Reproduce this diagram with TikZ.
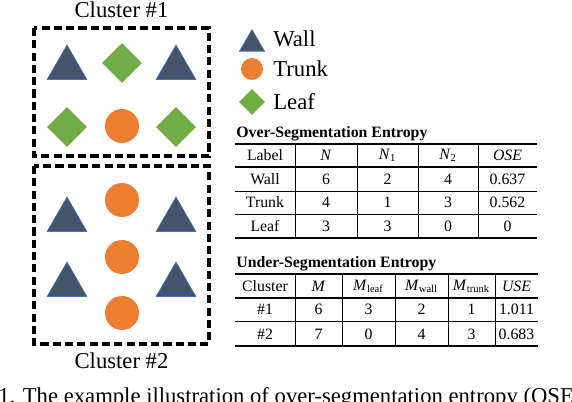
\documentclass[tikz,border=0pt]{standalone}
\usepackage{fontspec}
\setmainfont{Liberation Serif}
\usepackage{xcolor}
\usepackage{tikz}
\usetikzlibrary{shapes.geometric}
\definecolor{wallc}{HTML}{44546A}
\definecolor{walle}{HTML}{4472C4}
\definecolor{trunkc}{HTML}{ED7D31}
\definecolor{leafc}{HTML}{70AD47}

\begin{document}
\begin{tikzpicture}[x=0.02cm, y=-0.02cm,
    wall/.style={regular polygon, regular polygon sides=3, fill=wallc,
      draw=walle, line width=0.3pt, inner sep=0pt, minimum size=0.92cm},
    trunk/.style={circle, fill=trunkc, inner sep=0pt, minimum size=0.68cm},
    leaf/.style={diamond, fill=leafc, inner sep=0pt, minimum width=0.8cm,
      minimum height=0.8cm},
    cluster/.style={draw, line width=1.9pt, dash pattern=on 4.6pt off 2.4pt},
    lbl/.style={font=\fontsize{12.9}{15}\selectfont, inner sep=0pt},
    ttl/.style={font=\fontsize{9}{11}\selectfont\bfseries, inner sep=0pt,
      anchor=base west},
    cell/.style={font=\fontsize{9}{11}\selectfont, inner sep=0pt},
    thickrule/.style={line width=1.1pt},
    midrule/.style={line width=0.8pt},
    thinrule/.style={line width=0.45pt}]
  \useasboundingbox (0,0) rectangle (572,402);
  % clusters
  \draw[cluster] (34,28) rectangle (209,156);
  \draw[cluster] (34,166) rectangle (209,344);
  \node[lbl, anchor=base] (c1) at (121.5,18) {Cluster \#1};
  \node[lbl, anchor=base] (c2) at (121.5,368) {Cluster \#2};
  \node[wall] (w1) at (67,68) {};
  \node[leaf] (l1) at (122,63) {};
  \node[wall] (w2) at (176,68) {};
  \node[leaf] (l2) at (67,127) {};
  \node[trunk] (t1) at (122,126) {};
  \node[leaf] (l3) at (176,127) {};
  \node[trunk] (t2) at (122,200) {};
  \node[wall] (w3) at (67,220) {};
  \node[wall] (w4) at (176,220) {};
  \node[trunk] (t3) at (122,257) {};
  \node[wall] (w5) at (67,285) {};
  \node[wall] (w6) at (176,285) {};
  \node[trunk] (t4) at (122,313) {};
  % legend
  \node[wall, minimum size=0.58cm] (kw) at (252,44) {};
  \node[trunk, minimum size=0.44cm] (kt) at (252,69) {};
  \node[leaf, minimum width=0.52cm, minimum height=0.52cm] (kl) at (252,102) {};
  \node[lbl, anchor=base west] (kwt) at (273,47) {Wall};
  \node[lbl, anchor=base west] (ktt) at (273,77) {Trunk};
  \node[lbl, anchor=base west] (klt) at (273,110) {Leaf};
  % over-segmentation table
  \node[ttl] (ose) at (236,138) {Over-Segmentation Entropy};
  \foreach \x/\t [count=\c] in {265/Label, 326/\textit{N},
      387.5/\textit{N}\textsubscript{1}, 448/\textit{N}\textsubscript{2},
      507.5/\textit{OSE}}
    \node[cell] (ose0\c) at (\x,155.5) {\t};
  \foreach \x/\t [count=\c] in {265/Wall, 326/6, 387.5/2, 448/4, 507.5/0.637}
    \node[cell] (ose1\c) at (\x,179) {\t};
  \foreach \x/\t [count=\c] in {265/Trunk, 326/4, 387.5/1, 448/3, 507.5/0.562}
    \node[cell] (ose2\c) at (\x,202.5) {\t};
  \foreach \x/\t [count=\c] in {265/Leaf, 326/3, 387.5/3, 448/0, 507.5/0}
    \node[cell] (ose3\c) at (\x,226) {\t};
  \draw[thickrule] (235,144) -- (537,144);
  \draw[midrule] (235,167) -- (537,167);
  \draw[thinrule] (235,191) -- (537,191);
  \draw[thinrule] (235,214) -- (537,214);
  \draw[thickrule] (235,238) -- (537,238);
  \foreach \x in {295,357,418,478}
    \draw[thinrule] (\x,144) -- (\x,238);
  % under-segmentation table
  \node[ttl] (use) at (236,268) {Under-Segmentation Entropy};
  \foreach \x/\t [count=\c] in {265/Cluster, 318.5/\textit{M},
      368.5/\textit{M}\textsubscript{leaf}, 421.5/\textit{M}\textsubscript{wall},
      471.5/\textit{M}\textsubscript{trunk}, 516.5/\textit{USE}}
    \node[cell] (use0\c) at (\x,286) {\t};
  \foreach \x/\t [count=\c] in {265/\#1, 318.5/6, 368.5/3, 421.5/2, 471.5/1,
      516.5/1.011}
    \node[cell] (use1\c) at (\x,309.5) {\t};
  \foreach \x/\t [count=\c] in {265/\#2, 318.5/7, 368.5/0, 421.5/4, 471.5/3,
      516.5/0.683}
    \node[cell] (use2\c) at (\x,334) {\t};
  \draw[thickrule] (235,274) -- (538,274);
  \draw[midrule] (235,298) -- (538,298);
  \draw[thinrule] (235,321) -- (538,321);
  \draw[thickrule] (235,346) -- (538,346);
  \foreach \x in {295,342,395,448,495}
    \draw[thinrule] (\x,274) -- (\x,346);
  % caption, cut by the frame
  \begin{scope}
    \clip (0,0) rectangle (572,402);
    \node[lbl, anchor=base west] (cap) at (-2,403)
      {1. The example illustration of over-segmentation entropy (OSE)};
  \end{scope}
\end{tikzpicture}
\end{document}
